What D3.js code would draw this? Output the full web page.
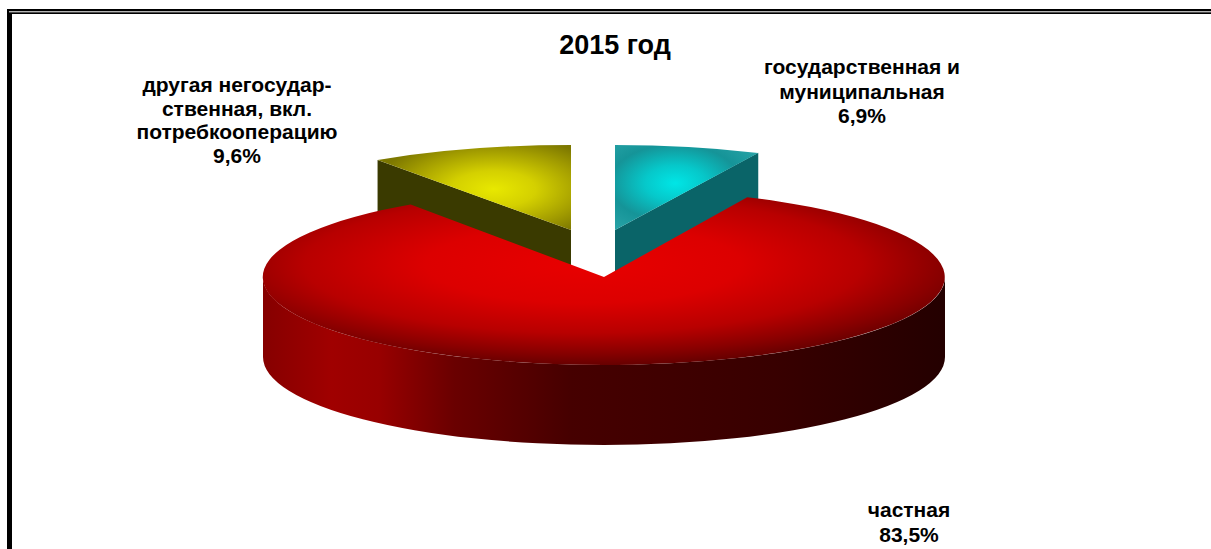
<!DOCTYPE html>
<html>
<head>
<meta charset="utf-8">
<script src="https://d3js.org/d3.v7.min.js"></script>
<style>
	html, body { margin: 0; padding: 0; background: #fff; overflow: hidden; }
	text { font-family: "Liberation Sans", Arial, sans-serif; font-weight: bold; fill: #000; text-anchor: middle; }
</style>
</head>
<body>
<div id="chart"></div>
<script>
"use strict";
var title = "2015 год";
var categories = ["государственная и муниципальная", "частная", "другая негосударственная, вкл. потребкооперацию"];
var shares = [6.9, 83.5, 9.6];
var shareLabels = ["6,9%", "83,5%", "9,6%"];
var labelLines = [
	["государственная и", "муниципальная"],
	["частная"],
	["другая негосудар-", "ственная, вкл.", "потребкооперацию"]
];

var width = 1211, height = 549;
var cx = 604, cy = 277, rx = 341, ry = 88, depth = 80;
// where each slice sits and where its label goes, same order as the data
var sliceLayout = [
	{ dx: 11, dy: -47, ry: 85, top: "url(#tealTop)", wall: "#0a6468" },
	{ dx: 0, dy: 0, ry: ry, top: "url(#redTop)", wall: "url(#redWall)" },
	{ dx: -33, dy: -47, ry: 85, top: "url(#yellowTop)", wall: "#3a3a00" }
];
var labelPos = [
	{ x: 862, y: 74, step: 24.5 },
	{ x: 909, y: 517, step: 24.5 },
	{ x: 237, y: 92, step: 23.7 }
];
var labelSize = 21;

var svg = d3.select("#chart").append("svg")
	.attr("width", width)
	.attr("height", height)
	.style("display", "block");

var defs = svg.append("defs");

function radial(id, cxp, cyp, r, stops) {
	var g = defs.append("radialGradient").attr("id", id)
		.attr("cx", cxp).attr("cy", cyp).attr("r", r);
	stops.forEach(function(s) {
		g.append("stop").attr("offset", s[0]).attr("stop-color", s[1]);
	});
}
radial("tealTop", 0.42, 0.45, 0.7, [[0, "#00e6e6"], [0.3, "#06c8ca"], [0.65, "#159498"], [1, "#2aa4a8"]]);
radial("yellowTop", 0.6, 0.52, 0.62, [[0, "#e8e800"], [0.35, "#d4d000"], [0.75, "#a09a00"], [1, "#7d7800"]]);
radial("redTop", 0.47, 0.4, 0.66, [[0, "#e80000"], [0.35, "#dc0000"], [0.62, "#b80000"], [0.8, "#880000"], [1, "#4c0000"]]);

var wallGrad = defs.append("linearGradient").attr("id", "redWall");
[[0, "#860000"], [0.1, "#a00000"], [0.17, "#980000"], [0.28, "#6a0000"], [0.45, "#460000"], [0.75, "#380000"], [1, "#240000"]]
	.forEach(function(s) {
		wallGrad.append("stop").attr("offset", s[0]).attr("stop-color", s[1]);
	});

// frame: double line on top, heavy line on the left
svg.append("rect").attr("x", 7).attr("y", 9).attr("width", width - 7).attr("height", 5).attr("fill", "#000");
svg.append("rect").attr("x", 9).attr("y", 11.3).attr("width", width - 9).attr("height", 1).attr("fill", "#fff");
svg.append("rect").attr("x", 7).attr("y", 14).attr("width", 5).attr("height", height - 14).attr("fill", "#000");

var pie = d3.pie().sort(null).value(function(d) { return d; });
var arcs = pie(shares);
var arc = d3.arc().innerRadius(0).outerRadius(1);

function point(a, l) {
	return [cx + l.dx + rx * Math.sin(a), cy + l.dy - l.ry * Math.cos(a)];
}

// the two small slices go first, the big one covers the bottom of their walls
[2, 0, 1].forEach(function(i) {
	var d = arcs[i], l = sliceLayout[i];
	var g = svg.append("g").attr("class", "slice");
	var wall;
	if (i === 1) {
		// outer wall, front half of the ellipse
		var a = point(-Math.PI / 2 + 2 * Math.PI, l), b = point(Math.PI / 2, l);
		wall = "M" + a + "A" + rx + "," + l.ry + " 0 0 0 " + b
			+ "L" + [b[0], b[1] + depth]
			+ "A" + rx + "," + l.ry + " 0 0 1 " + [a[0], a[1] + depth] + "Z";
	} else {
		// cut wall facing the viewer
		var edge = i === 0 ? d.endAngle : d.startAngle;
		var p = point(edge, l), c = [cx + l.dx, cy + l.dy];
		wall = "M" + p + "L" + c + "L" + [c[0], c[1] + depth] + "L" + [p[0], p[1] + depth] + "Z";
	}
	g.append("path").attr("d", wall).attr("fill", l.wall);
	g.append("path")
		.attr("d", arc(d))
		.attr("transform", "translate(" + (cx + l.dx) + "," + (cy + l.dy) + ") scale(" + rx + "," + l.ry + ")")
		.attr("fill", l.top);
});

svg.append("text").attr("x", 615).attr("y", 54).style("font-size", "27px").text(title);

labelLines.forEach(function(lines, i) {
	var p = labelPos[i];
	lines.concat([shareLabels[i]]).forEach(function(line, j) {
		svg.append("text")
			.attr("x", p.x)
			.attr("y", p.y + j * p.step)
			.style("font-size", labelSize + "px")
			.text(line);
	});
});
</script>
</body>
</html>
